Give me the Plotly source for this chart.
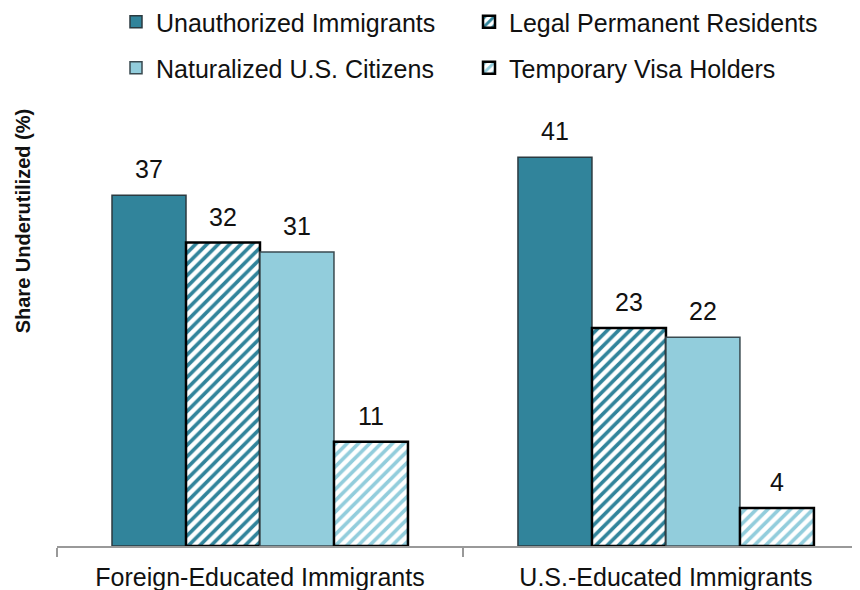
import plotly.graph_objects as go

categories = ["Foreign-Educated Immigrants", "U.S.-Educated Immigrants"]
series_names = ["Unauthorized Immigrants", "Legal Permanent Residents",
                "Naturalized U.S. Citizens", "Temporary Visa Holders"]
unauthorized = [37, 41]
legal_permanent = [32, 23]
naturalized = [31, 22]
temporary = [11, 4]
all_values = [unauthorized, legal_permanent, naturalized, temporary]

TEAL = "#31849B"
LIGHT = "#92CDDC"
FONT = "Liberation Sans, Arial, sans-serif"
FS = 25
OFF = 8  # page body margin offset

styles = [
    dict(color=TEAL, line=dict(color="#2b3a40", width=1.5)),
    dict(color="white", line=dict(color="black", width=2.5),
         pattern=dict(shape="/", fgcolor=TEAL, bgcolor="white", size=8, solidity=0.45, fillmode="replace")),
    dict(color=LIGHT, line=dict(color="#3a4a50", width=1.5)),
    dict(color="white", line=dict(color="black", width=2.5),
         pattern=dict(shape="/", fgcolor=LIGHT, bgcolor="white", size=8, solidity=0.45, fillmode="replace")),
]
legends = ["legend", "legend", "legend2", "legend2"]

fig = go.Figure()
for name, vals, st, lg in zip(series_names, all_values, styles, legends):
    fig.add_trace(go.Bar(x=categories, y=vals, name=name, marker=st, legend=lg))

BARGAP = 0.271
n = len(all_values)
bw = (1 - BARGAP) / n
for i, vals in enumerate(all_values):
    off = (i - (n - 1) / 2) * bw
    for j, v in enumerate(vals):
        fig.add_annotation(x=j + off, y=v, xref="x", yref="y", text=str(v),
                           showarrow=False, yanchor="bottom", yshift=10,
                           font=dict(family=FONT, size=FS, color="#111"))

PL, PB, PW, PH = 56.7, 546, 803.3, 446  # plot area in screen px
fig.add_annotation(x=(23 - PL) / PW, y=(PB - 221) / PH, xref="paper", yref="paper",
                   xanchor="center", yanchor="middle",
                   text="<b>Share Underutilized (%)</b>",
                   showarrow=False, textangle=-90, font=dict(family=FONT, size=20, color="#111"))

W, H = 860, 590
fig.update_layout(
    width=W, height=H,
    margin=dict(l=PL - OFF, r=W - (PL + PW - OFF), t=PB - PH - OFF, b=H - (PB - OFF), autoexpand=False),
    paper_bgcolor="white", plot_bgcolor="white",
    barmode="group", bargap=BARGAP, bargroupgap=0,
    font=dict(family=FONT, size=FS, color="#111"),
    legend=dict(orientation="h", x=(116 - OFF) / W, y=1 - (22 - OFF) / H, xanchor="left", yanchor="middle",
                xref="container", yref="container", entrywidth=308, entrywidthmode="pixels",
                font=dict(family=FONT, size=FS, color="#111"), bgcolor="rgba(0,0,0,0)"),
    legend2=dict(orientation="h", x=(116 - OFF) / W, y=1 - (68 - OFF) / H, xanchor="left", yanchor="middle",
                 xref="container", yref="container", entrywidth=308, entrywidthmode="pixels",
                 font=dict(family=FONT, size=FS, color="#111"), bgcolor="rgba(0,0,0,0)"),
    xaxis=dict(type="category", range=[-0.5, 1.478], showline=True, linecolor="#999", linewidth=1.5,
               ticks="outside", tickson="boundaries", ticklen=9, tickcolor="#999", tickwidth=1.5,
               ticklabelstandoff=8,
               showgrid=False, tickfont=dict(family=FONT, size=FS, color="#111")),
    yaxis=dict(range=[0, PH / 9.483], visible=False, showgrid=False, zeroline=False),
    showlegend=True,
)

fig.write_html("out.html")
